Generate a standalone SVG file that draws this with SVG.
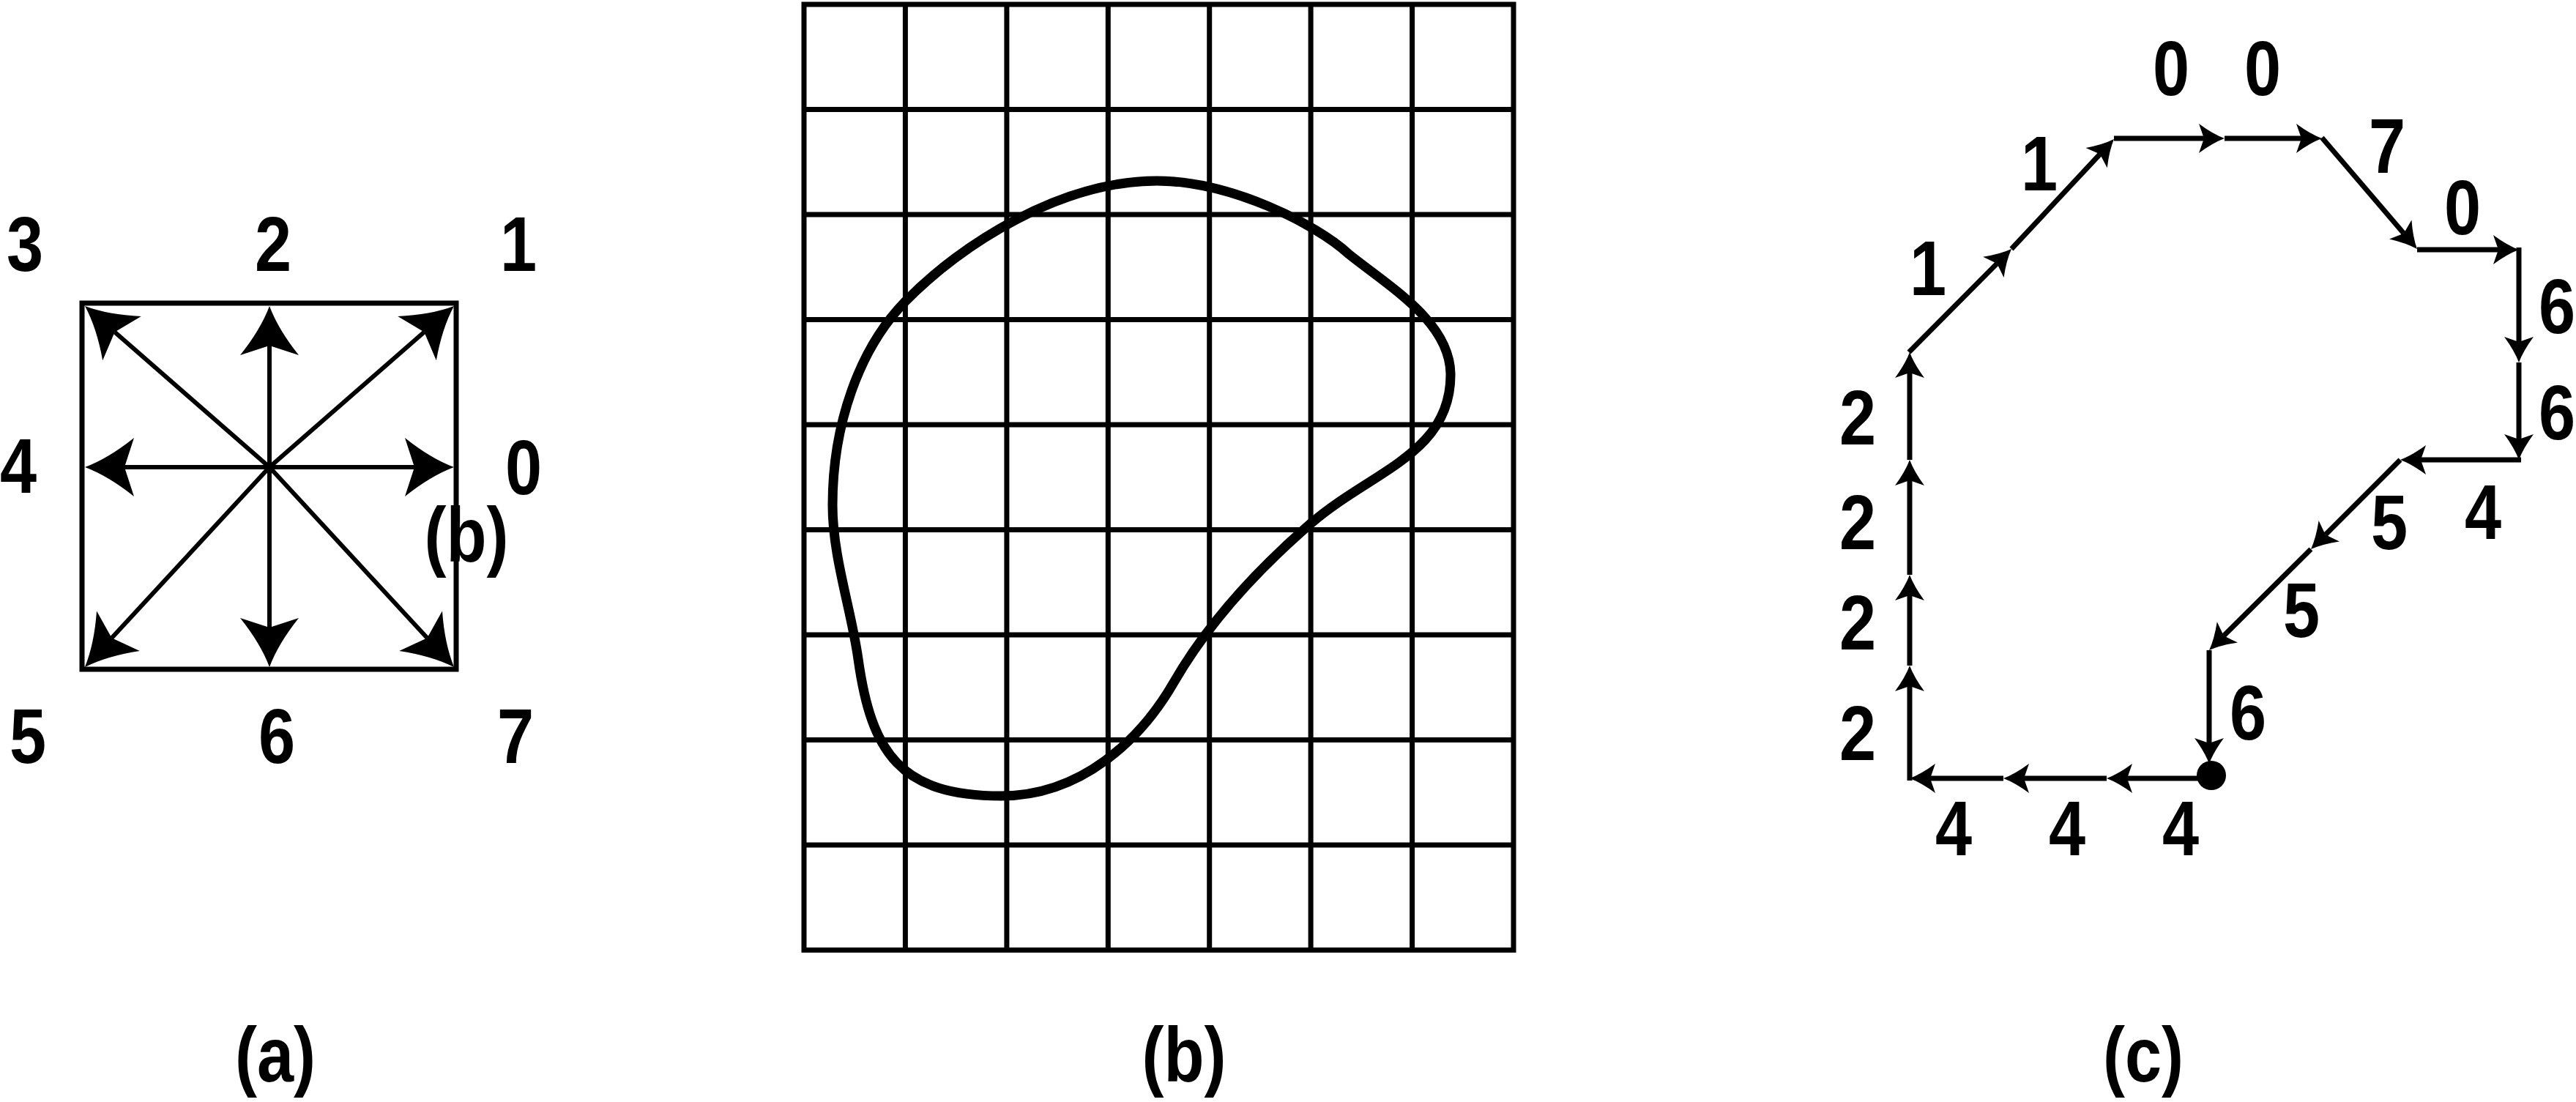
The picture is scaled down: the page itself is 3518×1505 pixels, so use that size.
<svg xmlns="http://www.w3.org/2000/svg" width="3518" height="1505" viewBox="0 0 3518 1505">
<style>
.lbl{font-family:"Liberation Sans","Arial",sans-serif;font-weight:bold;font-size:106px;fill:#000;text-anchor:middle}
.frame{fill:none;stroke:#000;stroke-width:7}
.arA{fill:none;stroke:#000;stroke-width:6;marker-end:url(#ahA)}
.arC{fill:none;stroke:#000;stroke-width:7;marker-end:url(#ahC)}
.grid{fill:none;stroke:#000;stroke-width:7}
.blob{fill:none;stroke:#000;stroke-width:13;stroke-linejoin:round}
</style>
<defs>
<marker id="ahA" markerUnits="userSpaceOnUse" orient="auto" refX="0" refY="0" markerWidth="1" markerHeight="1" overflow="visible">
<path d="M54,0 Q22,-12 -13,-40 L0,0 L-13,40 Q22,12 54,0 Z" fill="#000"/>
</marker>
<marker id="ahC" markerUnits="userSpaceOnUse" orient="auto" refX="0" refY="0" markerWidth="1" markerHeight="1" overflow="visible">
<path d="M28,0 Q12,-6 -7,-20 L0,0 L-7,20 Q12,6 28,0 Z" fill="#000"/>
</marker>
</defs>
<rect width="3518" height="1505" fill="#fff"/>

<!-- Panel (a) -->
<g id="a-frame"><rect class="frame" x="112" y="414" width="511" height="500"/></g>
<g id="a-connectors">
<line class="arA" x1="368" y1="638" x2="566" y2="638"/>
<line class="arA" x1="368" y1="638" x2="170" y2="638"/>
<line class="arA" x1="368" y1="638" x2="368" y2="472"/>
<line class="arA" x1="368" y1="638" x2="368" y2="857"/>
<line class="arA" x1="368" y1="638" x2="579.3" y2="453.5"/>
<line class="arA" x1="368" y1="638" x2="156.7" y2="453.5"/>
<line class="arA" x1="368" y1="638" x2="583.4" y2="871.3"/>
<line class="arA" x1="368" y1="638" x2="152.6" y2="871.3"/>
</g>
<g id="a-labels" transform="scale(0.85 1)">
<text class="lbl" x="40" y="370">3</text>
<text class="lbl" x="438.8" y="370">2</text>
<text class="lbl" x="832.9" y="370">1</text>
<text class="lbl" x="29.4" y="673">4</text>
<text class="lbl" x="841.2" y="675">0</text>
<text class="lbl" x="44.7" y="1042">5</text>
<text class="lbl" x="444.7" y="1042">6</text>
<text class="lbl" x="828.2" y="1042">7</text>
<text class="lbl" x="749.4" y="767">(b)</text>
<text class="lbl" x="442.4" y="1477">(a)</text>
</g>

<!-- Panel (b) -->
<g id="b-grid">
<path class="grid" d="M1098,6V1297.5M1236.4,6V1297.5M1374.9,6V1297.5M1513.3,6V1297.5M1651.7,6V1297.5M1790.1,6V1297.5M1928.6,6V1297.5M2067,6V1297.5M1094.5,6H2070.5M1094.5,149.5H2070.5M1094.5,293H2070.5M1094.5,436.5H2070.5M1094.5,580H2070.5M1094.5,723.5H2070.5M1094.5,867H2070.5M1094.5,1010.5H2070.5M1094.5,1154H2070.5M1094.5,1297.5H2070.5"/>
</g>
<g id="b-blob">
<path class="blob" d="M1842,347 C1898,392 1981,440 1981,512 C1981,620 1873.2,643 1790,715 C1718.2,777.2 1650.5,849.7 1603,932 C1558,1010 1477,1087 1367,1087 C1230,1087 1190,1028.7 1172,900 C1162.2,830.7 1137,760 1137,690 C1137,580 1173,476.8 1236,412 C1313,332.8 1450,247 1580,247 C1680,247 1798,306 1842,347 Z"/>
</g>
<g id="b-label" transform="scale(0.85 1)"><text class="lbl" x="1902.4" y="1477">(b)</text></g>

<!-- Panel (c) -->
<g id="c-connectors">
<line class="arC" x1="3020" y1="1063" x2="2905" y2="1063"/>
<line class="arC" x1="2877" y1="1063" x2="2764" y2="1063"/>
<line class="arC" x1="2736" y1="1063" x2="2636" y2="1063"/>
<line class="arC" x1="2608" y1="1066" x2="2608" y2="937"/>
<line class="arC" x1="2608" y1="909" x2="2608" y2="813"/>
<line class="arC" x1="2608" y1="785" x2="2608" y2="656"/>
<line class="arC" x1="2608" y1="628" x2="2608" y2="509"/>
<line class="arC" x1="2607" y1="481" x2="2727.3" y2="359.9"/>
<line class="arC" x1="2747" y1="340" x2="2867.9" y2="210.5"/>
<line class="arC" x1="2887" y1="189" x2="3010" y2="189"/>
<line class="arC" x1="3038" y1="189" x2="3143" y2="189"/>
<line class="arC" x1="3171" y1="188" x2="3282.8" y2="318.7"/>
<line class="arC" x1="3301" y1="341" x2="3412" y2="341"/>
<line class="arC" x1="3440" y1="338" x2="3440" y2="467"/>
<line class="arC" x1="3440" y1="495" x2="3440" y2="600"/>
<line class="arC" x1="3443" y1="628" x2="3306" y2="628"/>
<line class="arC" x1="3278" y1="628" x2="3175.8" y2="730.2"/>
<line class="arC" x1="3156" y1="750" x2="3036.9" y2="868.3"/>
<line class="arC" x1="3017" y1="888" x2="3017" y2="1015"/>
</g>
<g id="c-start"><circle cx="3020" cy="1059" r="20" fill="#000"/></g>
<g id="c-labels" transform="scale(0.85 1)">
<text class="lbl" x="3488.2" y="130">0</text>
<text class="lbl" x="3635.3" y="130">0</text>
<text class="lbl" x="3276.5" y="260">1</text>
<text class="lbl" x="3097.6" y="403">1</text>
<text class="lbl" x="3835.3" y="236">7</text>
<text class="lbl" x="3956.5" y="320">0</text>
<text class="lbl" x="4108.2" y="455">6</text>
<text class="lbl" x="4108.2" y="600">6</text>
<text class="lbl" x="3989.4" y="736">4</text>
<text class="lbl" x="3838.8" y="750">5</text>
<text class="lbl" x="3697.6" y="870">5</text>
<text class="lbl" x="3611.8" y="1010">6</text>
<text class="lbl" x="3138.8" y="1168">4</text>
<text class="lbl" x="3321.2" y="1168">4</text>
<text class="lbl" x="3503.5" y="1168">4</text>
<text class="lbl" x="2984.7" y="607">2</text>
<text class="lbl" x="2984.7" y="750">2</text>
<text class="lbl" x="2984.7" y="887">2</text>
<text class="lbl" x="2984.7" y="1038">2</text>
<text class="lbl" x="3443.5" y="1477">(c)</text>
</g>
</svg>
